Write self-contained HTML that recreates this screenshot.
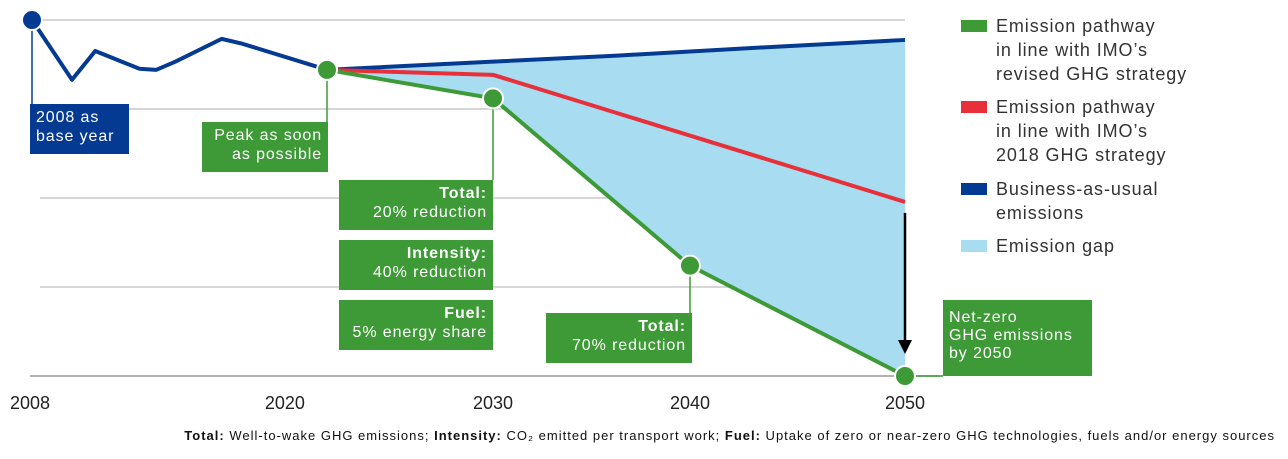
<!DOCTYPE html>
<html><head><meta charset="utf-8">
<style>
body{margin:0;background:#fff;width:1288px;height:459px;overflow:hidden;font-family:"Liberation Sans",sans-serif;}
svg{position:absolute;left:0;top:0;}
.box{position:absolute;color:#fff;font-size:16px;line-height:19px;letter-spacing:0.9px;box-sizing:border-box;padding:4px 6px;white-space:nowrap;}
.r{text-align:right;}
.leg{position:absolute;left:961px;font-size:18px;line-height:24px;letter-spacing:0.9px;color:#333;}
.leg i{position:absolute;left:0;top:6px;width:26px;height:12px;}
.leg span{position:absolute;left:35px;top:0;white-space:nowrap;}
.foot{position:absolute;right:13px;top:428px;font-size:13px;letter-spacing:1.0px;color:#111;white-space:nowrap;}
</style></head><body>
<svg id="chart" width="1288" height="459"></svg>

<div class="box" style="left:30px;top:104px;width:99px;height:50px;background:#053a92;">2008 as<br>base year</div>
<div class="box r" style="left:202px;top:122px;width:126px;height:50px;background:#3d9a36;">Peak as soon<br>as possible</div>
<div class="box r" style="left:339px;top:180px;width:154px;height:50px;background:#3d9a36;"><b>Total:</b><br>20% reduction</div>
<div class="box r" style="left:339px;top:240px;width:154px;height:50px;background:#3d9a36;"><b>Intensity:</b><br>40% reduction</div>
<div class="box r" style="left:339px;top:300px;width:154px;height:50px;background:#3d9a36;"><b>Fuel:</b><br>5% energy share</div>
<div class="box r" style="left:546px;top:313px;width:146px;height:50px;background:#3d9a36;"><b>Total:</b><br>70% reduction</div>
<div class="box" style="left:943px;top:300px;width:149px;height:76px;background:#3d9a36;padding-top:9px;line-height:18px;">Net-zero<br>GHG emissions<br>by 2050</div>

<div class="leg" style="top:14px;"><i style="background:#3d9a36"></i><span>Emission pathway<br>in line with IMO’s<br>revised GHG strategy</span></div>
<div class="leg" style="top:95px;"><i style="background:#e8303a"></i><span>Emission pathway<br>in line with IMO’s<br>2018 GHG strategy</span></div>
<div class="leg" style="top:177px;"><i style="background:#053a92"></i><span>Business-as-usual<br>emissions</span></div>
<div class="leg" style="top:234px;"><i style="background:#a8dcf0"></i><span>Emission gap</span></div>

<div class="foot"><b>Total:</b> Well-to-wake GHG emissions; <b>Intensity:</b> CO₂ emitted per transport work; <b>Fuel:</b> Uptake of zero or near-zero GHG technologies, fuels and/or energy sources</div>

<script>
const tickYears=[2008,2020,2030,2040,2050];
const tickLabels=["2008","2020","2030","2040","2050"];
const gridValues=[0,25,50,75,100];
const bauYears=[2008,2009.9,2011,2013.1,2013.9,2014.8,2017,2018,2022,2030,2036.3,2044,2050];
const bauValues=[100,83.2,91.3,86.3,86,88.3,94.7,93.3,86,88.3,90,92.5,94.4];
const redYears=[2022,2030,2050];
const redValues=[86,84.6,48.9];
const greenYears=[2022,2030,2040,2050];
const greenValues=[86,78,31,0];

const NS="http://www.w3.org/2000/svg";
const svg=document.getElementById('chart');
// piecewise-linear year axis (the original chart's axis is not uniform)
const axYears=[2008,2022,2030,2040,2050];
const axPx=[32,327,493,690,905];
function xs(d){
  for(let i=0;i<axYears.length-1;i++){
    if(d<=axYears[i+1]||i===axYears.length-2){
      return axPx[i]+(d-axYears[i])*(axPx[i+1]-axPx[i])/(axYears[i+1]-axYears[i]);
    }
  }
}
const yv=v=>376-v*3.56;
function mk(t,a){const e=document.createElementNS(NS,t);for(const k in a)e.setAttribute(k,a[k]);svg.appendChild(e);return e;}
function pts(ys,vs){return ys.map((d,i)=>xs(d)+','+yv(vs[i])).join(' ');}

gridValues.forEach(gv=>{
  const l=mk('line',{x1:gv===0?30:40,x2:gv===0?940:905,y1:yv(gv),y2:yv(gv),stroke:gv===0?'#999':'#c8c8c8','stroke-width':1.5});
  
  
});
tickYears.forEach((t,i)=>{
  const tx=mk('text',{x:xs(t)+(i===0?-2:0),y:409,'text-anchor':'middle','font-size':18,fill:'#222','font-family':'Liberation Sans, sans-serif'});
  tx.textContent=tickLabels[i];
  
  
});
const gi=bauYears.indexOf(2022);
const upperPts=bauYears.slice(gi).map((d,i)=>xs(d)+','+yv(bauValues[gi+i]));
const lowerPts=greenYears.map((d,i)=>xs(d)+','+yv(greenValues[i])).reverse();
const area=mk('polygon',{points:upperPts.concat(lowerPts).join(' '),fill:'#a8dcf0'});


[[2008,100,104],[2022,86,122],[2030,78,180],[2040,31,313]].forEach(c=>{
  const l=mk('line',{x1:xs(c[0]),x2:xs(c[0]),y1:yv(c[1]),y2:c[2],stroke:c[0]===2008?'#053a92':'#3d9a36','stroke-width':1.5});
  
  
});
const cl=mk('line',{x1:xs(2050),x2:943,y1:376,y2:376,stroke:'#3d9a36','stroke-width':1.5});


const ar=mk('line',{x1:xs(2050),x2:xs(2050),y1:yv(redValues[2])+11,y2:345,stroke:'#000','stroke-width':2.5});


const ah=mk('polygon',{points:`${xs(2050)-7},340 ${xs(2050)+7},340 ${xs(2050)},354`,fill:'#000'});



const b=mk('polyline',{points:pts(bauYears,bauValues),fill:'none',stroke:'#053a92','stroke-width':4,'stroke-linejoin':'round'});


const r=mk('polyline',{points:pts(redYears,redValues),fill:'none',stroke:'#e8303a','stroke-width':4,'stroke-linejoin':'round'});


const g=mk('polyline',{points:pts(greenYears,greenValues),fill:'none',stroke:'#3d9a36','stroke-width':4,'stroke-linejoin':'round'});



const bd=mk('circle',{cx:xs(bauYears[0]),cy:yv(bauValues[0]),r:10,fill:'#053a92',stroke:'#fff','stroke-width':2});


greenYears.forEach((d,i)=>{
  const c=mk('circle',{cx:xs(d),cy:yv(greenValues[i]),r:10,fill:'#3d9a36',stroke:'#fff','stroke-width':2});
  
  
});
</script>
</body></html>
